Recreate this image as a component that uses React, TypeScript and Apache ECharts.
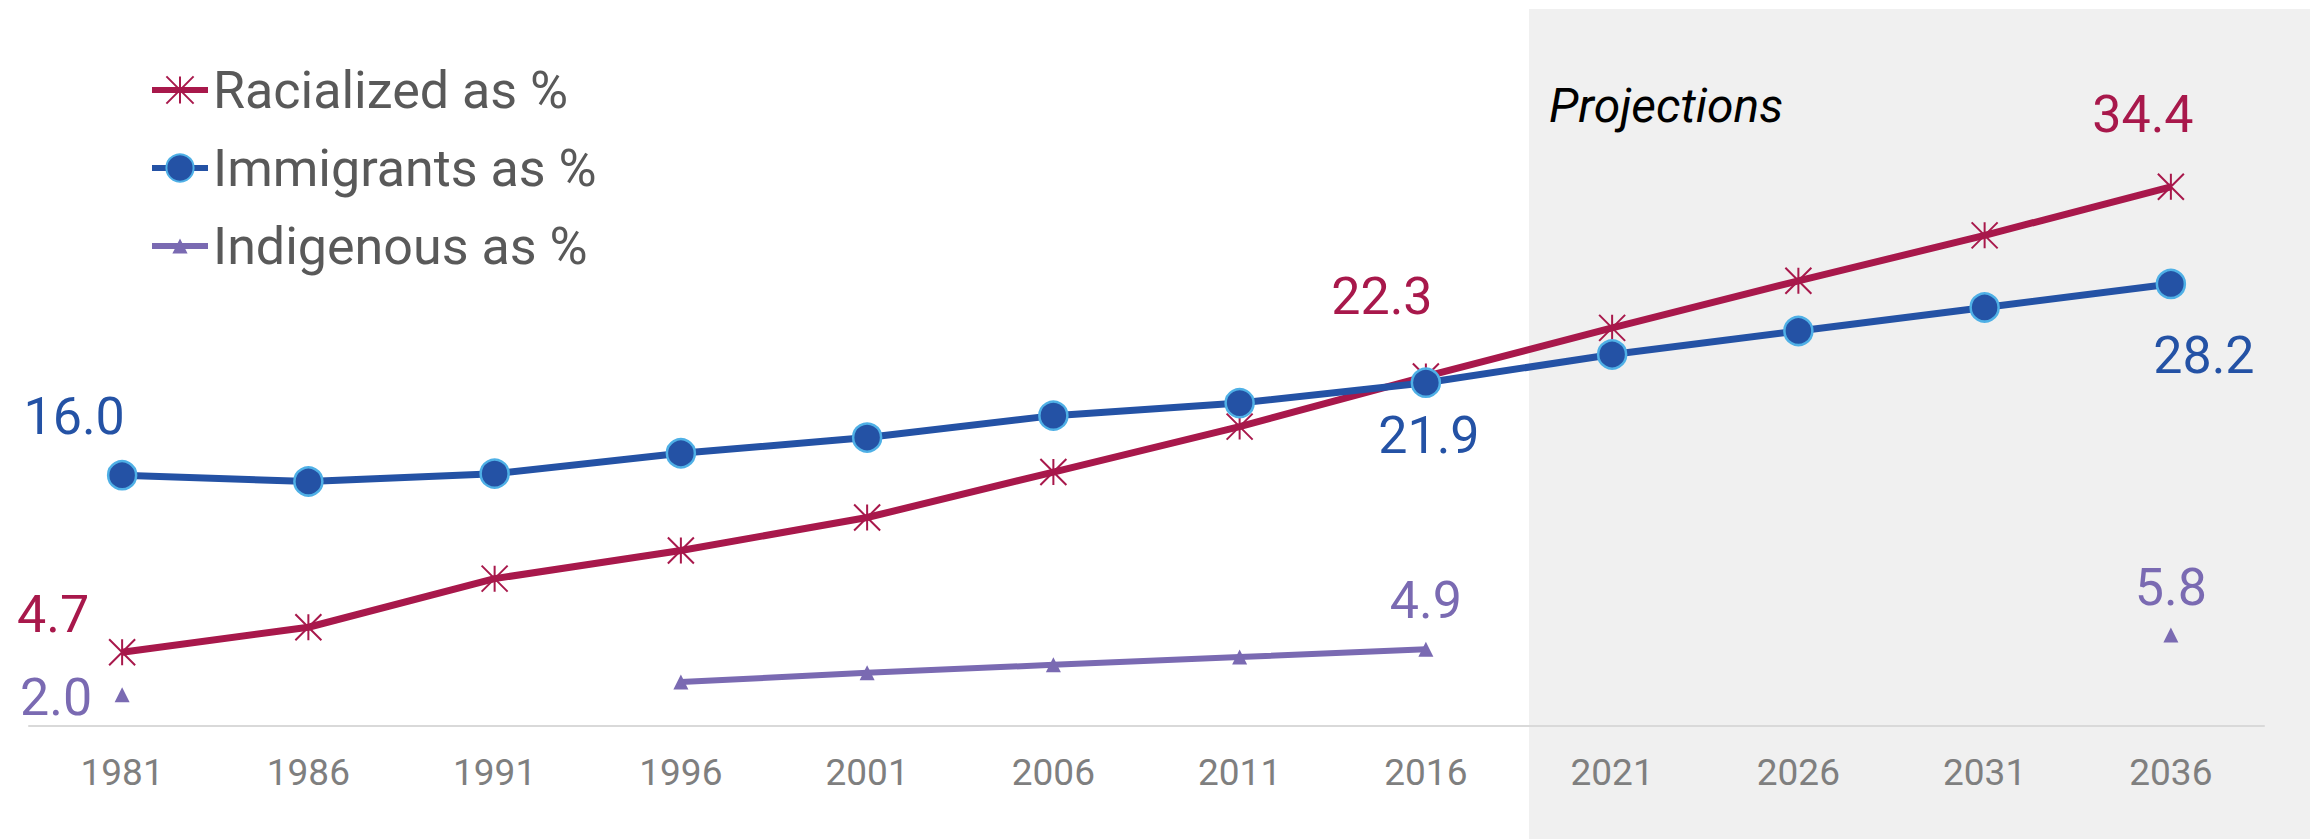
import React, { useEffect, useRef } from "react";
import * as echarts from "echarts";

const years = ["1981", "1986", "1991", "1996", "2001", "2006", "2011", "2016", "2021", "2026", "2031", "2036"];
const racialized = [4.7, 6.3, 9.4, 11.2, 13.3, 16.2, 19.1, 22.3, 25.4, 28.4, 31.3, 34.4];
const immigrants = [16.0, 15.6, 16.1, 17.4, 18.4, 19.8, 20.6, 21.9, 23.7, 25.2, 26.7, 28.2];
const indigenous: (number | null)[] = [2.0, null, null, 2.8, 3.4, 3.9, 4.4, 4.9, null, null, null, 5.8];

const seriesNames = ["Racialized as %", "Immigrants as %", "Indigenous as %"];
const projectionsText = "Projections";

const RED = "#a8184b";
const BLUE = "#2452a5";
const LIGHTBLUE = "#4fb0e6";
const PURPLE = "#7a6ab2";
const FONT = "Roboto";

// label offsets (style only): index -> [dx, dy]
const redLabels: Record<number, [number, number]> = { 0: [-69, -38], 7: [-44, -80], 11: [-28, -72] };
const blueLabels: Record<number, [number, number]> = { 0: [-48, -59], 7: [3, 53], 11: [33, 72] };
const purpleLabels: Record<number, [number, number]> = { 0: [-66, 3], 7: [0, -49], 11: [0, -48] };

function withLabels(values: (number | null)[], offsets: Record<number, [number, number]>, color: string) {
  return values.map((v, i) => {
    if (v === null) return null;
    const off = offsets[i];
    if (!off) return v;
    return {
      value: v,
      label: {
        show: true,
        position: "inside",
        offset: off,
        align: "center",
        verticalAlign: "middle",
        color,
        fontSize: 52,
        fontFamily: FONT,
        formatter: (p: any) => Number(p.value).toFixed(1),
      },
    };
  });
}

export default function App() {
  const ref = useRef<HTMLDivElement>(null);
  useEffect(() => {
    if (!ref.current) return;
    const chart = echarts.init(ref.current, undefined, { renderer: "svg", width: 2310, height: 839 });
    const legendCommon = {
      orient: "vertical",
      left: 149,
      padding: 0,
      itemWidth: 56,
      selectedMode: false,
      lineStyle: { width: 6 },
      textStyle: { color: "#595959", fontSize: 52, fontFamily: FONT, lineHeight: 60 },
    };
    chart.setOption({
      animation: false,
      textStyle: { fontFamily: FONT },
      graphic: [
        {
          type: "rect",
          z: -10,
          shape: { x: 1529, y: 9, width: 781, height: 830 },
          style: { fill: "#f0f0f0" },
          silent: true,
        },
        {
          type: "text",
          z: 5,
          x: 1549,
          y: 81,
          style: {
            text: projectionsText,
            fill: "#000000",
            fontSize: 48,
            fontStyle: "italic",
            fontFamily: FONT,
            verticalAlign: "top",
          },
        },
      ],
      legend: [
        { ...legendCommon, top: 60, itemHeight: 34, data: [seriesNames[0]] },
        { ...legendCommon, top: 138, itemHeight: 34, data: [seriesNames[1]] },
        { ...legendCommon, top: 216, itemHeight: 19, data: [seriesNames[2]] },
      ],
      grid: { left: 29, right: 46, top: 99, bottom: 113, containLabel: false },
      xAxis: {
        type: "category",
        data: years,
        boundaryGap: true,
        axisLine: { lineStyle: { color: "#d9d9d9", width: 2 } },
        axisTick: { show: false },
        axisLabel: { color: "#7f7f7f", fontSize: 37, fontFamily: FONT, margin: 28 },
        splitLine: { show: false },
      },
      yAxis: {
        type: "value",
        min: 0,
        max: 40,
        show: false,
        splitLine: { show: false },
      },
      series: [
        {
          name: seriesNames[0],
          type: "line",
          data: withLabels(racialized, redLabels, RED),
          symbol: "path://M0,0L10,10M10,0L0,10M5,0L5,10",
          symbolSize: 26,
          showAllSymbol: true,
          lineStyle: { color: RED, width: 7 },
          itemStyle: { color: RED, borderColor: RED, borderWidth: 2 },
          z: 2,
        },
        {
          name: seriesNames[1],
          type: "line",
          data: withLabels(immigrants, blueLabels, BLUE),
          symbol: "circle",
          symbolSize: 28,
          showAllSymbol: true,
          lineStyle: { color: BLUE, width: 7 },
          itemStyle: { color: BLUE, borderColor: LIGHTBLUE, borderWidth: 2.5 },
          z: 3,
        },
        {
          name: seriesNames[2],
          type: "line",
          data: withLabels(indigenous, purpleLabels, PURPLE),
          symbol: "triangle",
          symbolSize: 15,
          showAllSymbol: true,
          connectNulls: false,
          lineStyle: { color: PURPLE, width: 6 },
          itemStyle: { color: PURPLE },
          z: 4,
        },
      ],
    });
    return () => chart.dispose();
  }, []);
  return (
    <div
      ref={ref}
      style={{ position: "fixed", left: 0, top: 0, width: 2310, height: 839, background: "#ffffff" }}
    />
  );
}
